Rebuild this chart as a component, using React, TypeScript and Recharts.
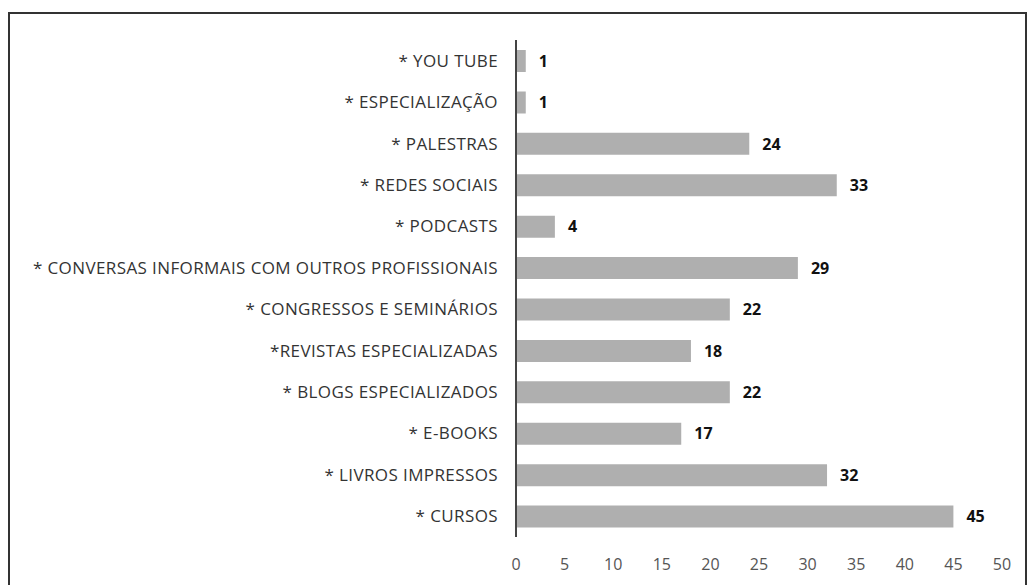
import { Bar, BarChart, LabelList, XAxis, YAxis } from "recharts"

const categories = [
  "* YOU TUBE",
  "* ESPECIALIZAÇÃO",
  "* PALESTRAS",
  "* REDES SOCIAIS",
  "* PODCASTS",
  "* CONVERSAS INFORMAIS COM OUTROS PROFISSIONAIS",
  "* CONGRESSOS E SEMINÁRIOS",
  "*REVISTAS ESPECIALIZADAS",
  "* BLOGS ESPECIALIZADOS",
  "* E-BOOKS",
  "* LIVROS IMPRESSOS",
  "* CURSOS",
]
const counts = [1, 1, 24, 33, 4, 29, 22, 18, 22, 17, 32, 45]
const xTicks = [0, 5, 10, 15, 20, 25, 30, 35, 40, 45, 50]

const data = categories.map((name, i) => ({ name, value: counts[i] }))

const FONT = "'Open Sans', 'Noto Sans', sans-serif"

export default function App() {
  return (
    <div
      style={{
        position: "absolute",
        left: 8,
        top: 12,
        width: 1015,
        height: 600,
        border: "2px solid #333",
        background: "#fff",
        fontFamily: FONT,
      }}
    >
      <BarChart
        width={1015}
        height={580}
        data={data}
        layout="vertical"
        margin={{ top: 26, right: 23, bottom: 17, left: 0 }}
      >
        <XAxis
          type="number"
          domain={[0, 50]}
          ticks={xTicks}
          axisLine={false}
          tickLine={false}
          height={40}
          tick={{ fill: "#555", fontSize: 16, fontFamily: FONT, dy: 14 }}
        />
        <YAxis
          type="category"
          dataKey="name"
          width={506}
          axisLine={{ stroke: "#444", strokeWidth: 2 }}
          tickLine={false}
          interval={0}
          tickMargin={12}
          tick={{ fill: "#333", fontSize: 17, fontFamily: FONT, letterSpacing: 0.4 }}
        />
        <Bar dataKey="value" fill="#afafaf" barSize={22} isAnimationActive={false}>
          <LabelList
            dataKey="value"
            position="right"
            offset={13}
            style={{ fill: "#111", fontSize: 16, fontWeight: 700, fontFamily: FONT }}
          />
        </Bar>
      </BarChart>
    </div>
  )
}
